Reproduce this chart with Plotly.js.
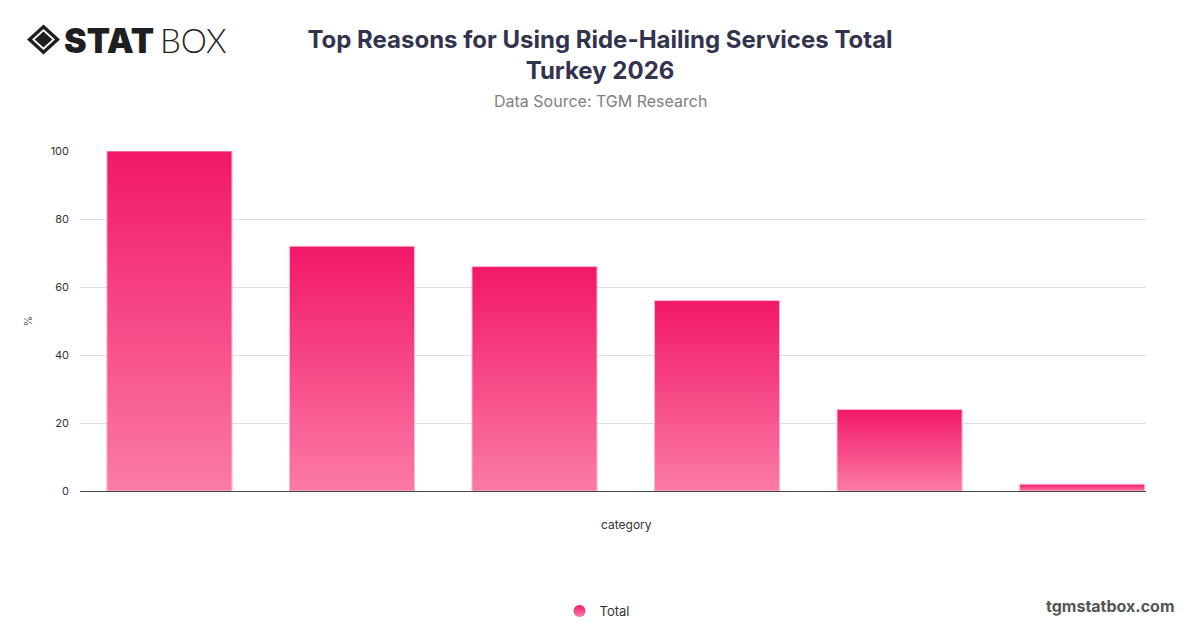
<!DOCTYPE html>
<html>
<head>
<meta charset="utf-8">
<script src="https://cdn.plot.ly/plotly-3.0.1.min.js"></script>
<style>
html,body{margin:0;padding:0;background:#fff;}
#chart{width:1200px;height:628px;}
</style>
</head>
<body>
<div id="chart"></div>
<script>
// ---- data ----
const categories = ["Reason 1", "Reason 2", "Reason 3", "Reason 4", "Reason 5", "Reason 6"];
const totalValues = [100, 72, 66, 56, 24, 2];
const seriesName = "Total";
const yTicks = [0, 20, 40, 60, 80, 100];

const W = 1200, H = 628;
const mL = 80, mR = 54, mT = 151, mB = 137;
const pw = W - mL - mR, ph = H - mT - mB;
const px = x => (x - mL) / pw;          // pixel x -> paper x
const py = y => (H - mB - y) / ph;      // pixel y -> paper y

const traces = [
  {
    type: 'bar',
    x: categories.map((c, i) => i),
    y: totalValues,
    name: seriesName,
    showlegend: false,
    width: 0.685,
    marker: { color: '#f5387c', line: { color: '#fcb8cf', width: 1 } },
    hoverinfo: 'y'
  },
  {
    type: 'scatter',
    mode: 'markers',
    x: [null], y: [null],
    name: seriesName,
    marker: { symbol: 'circle', size: 15, color: '#f5387c' },
    showlegend: true
  }
];

const layout = {
  width: W, height: H,
  margin: { l: mL, r: mR, t: mT, b: mB, pad: 0, autoexpand: false },
  paper_bgcolor: '#ffffff',
  plot_bgcolor: '#ffffff',
  font: { family: 'Inter, "Noto Sans", sans-serif', color: '#333' },
  title: {
    text: '<b>Top Reasons for Using Ride-Hailing Services Total<br>Turkey 2026</b>',
    font: { family: 'Inter, "Noto Sans", sans-serif', size: 24, color: '#33334d' },
    x: 0.5, xref: 'container', xanchor: 'center',
    y: 1 - 47.5 / H, yref: 'container', yanchor: 'middle'
  },
  xaxis: {
    range: [-0.49, 5.35],
    showticklabels: false,
    ticks: '',
    showgrid: false,
    zeroline: false,
    showline: false,
    fixedrange: true
  },
  yaxis: {
    range: [0, 100],
    tickvals: yTicks,
    ticktext: yTicks.map(String),
    tickfont: { size: 11, color: '#333' },
    ticks: '',
    ticklabelstandoff: 10,
    showgrid: true,
    gridcolor: '#dedede',
    gridwidth: 1,
    zeroline: true,
    zerolinecolor: '#444',
    zerolinewidth: 1,
    showline: false,
    fixedrange: true,
    title: { text: '%', font: { size: 11, color: '#555' }, standoff: 15 }
  },
  legend: {
    orientation: 'h',
    xref: 'container', yref: 'container',
    x: 597 / W, xanchor: 'center',
    y: 1 - 611 / H, yanchor: 'middle',
    font: { size: 13, color: '#333' },
    itemsizing: 'constant'
  },
  annotations: [
    {
      text: 'category',
      xref: 'paper', yref: 'paper',
      x: px(626), y: py(524), xanchor: 'center', yanchor: 'middle',
      showarrow: false,
      font: { size: 12, color: '#333' }
    },
    {
      text: 'Data Source: TGM Research',
      xref: 'paper', yref: 'paper',
      x: px(600), y: py(101), xanchor: 'center', yanchor: 'middle',
      showarrow: false,
      font: { size: 16, color: '#808080' }
    },
    {
      text: 'tgmstatbox.com',
      xref: 'paper', yref: 'paper',
      x: px(1177), y: py(606), xanchor: 'right', yanchor: 'middle',
      showarrow: false,
      font: { size: 16, color: '#555', weight: 700 }
    },
    {
      text: 'STAT',
      xref: 'paper', yref: 'paper',
      x: px(62), y: py(40), xanchor: 'left', yanchor: 'middle',
      showarrow: false,
      font: { family: 'Inter, sans-serif', size: 34, color: '#1f1f1f', weight: 900 }
    },
    {
      text: 'BOX',
      xref: 'paper', yref: 'paper',
      x: px(158), y: py(40), xanchor: 'left', yanchor: 'middle',
      showarrow: false,
      font: { family: 'Lato, sans-serif', size: 33, color: '#1f1f1f', weight: 300 }
    }
  ],
  shapes: [
    {
      type: 'path', xref: 'paper', yref: 'paper',
      path: `M ${px(43.5)} ${py(24.5)} L ${px(60)} ${py(39.5)} L ${px(43.5)} ${py(54.5)} L ${px(27)} ${py(39.5)} Z`,
      fillcolor: '#1f1f1f', line: { width: 0 }
    },
    {
      type: 'path', xref: 'paper', yref: 'paper',
      path: `M ${px(43.5)} ${py(29)} L ${px(55)} ${py(39.5)} L ${px(43.5)} ${py(50)} L ${px(32)} ${py(39.5)} Z`,
      fillcolor: '#ffffff', line: { width: 0 }
    },
    {
      type: 'path', xref: 'paper', yref: 'paper',
      path: `M ${px(43.5)} ${py(31.5)} L ${px(52.3)} ${py(39.5)} L ${px(43.5)} ${py(47.5)} L ${px(34.7)} ${py(39.5)} Z`,
      fillcolor: '#1f1f1f', line: { width: 0 }
    }
  ],
  hovermode: false
};

Plotly.newPlot('chart', traces, layout, { displayModeBar: false, staticPlot: true }).then(gd => {
  const svg = gd.querySelector('svg.main-svg');
  const NS = 'http://www.w3.org/2000/svg';
  let defs = svg.querySelector('defs');
  if (!defs) { defs = document.createElementNS(NS, 'defs'); svg.insertBefore(defs, svg.firstChild); }
  const grad = document.createElementNS(NS, 'linearGradient');
  grad.setAttribute('id', 'barGrad');
  grad.setAttribute('x1', '0'); grad.setAttribute('y1', '0');
  grad.setAttribute('x2', '0'); grad.setAttribute('y2', '1');
  [['0', '#f21768'], ['1', '#fb7ba6']].forEach(([o, c]) => {
    const s = document.createElementNS(NS, 'stop');
    s.setAttribute('offset', o); s.setAttribute('stop-color', c);
    grad.appendChild(s);
  });
  defs.appendChild(grad);
  gd.querySelectorAll('.barlayer .point path').forEach(p => { p.style.fill = 'url(#barGrad)'; });
  gd.querySelectorAll('.legend .scatterpts, .legend path.scatterpts').forEach(p => { p.style.fill = 'url(#barGrad)'; });
});
</script>
</body>
</html>
